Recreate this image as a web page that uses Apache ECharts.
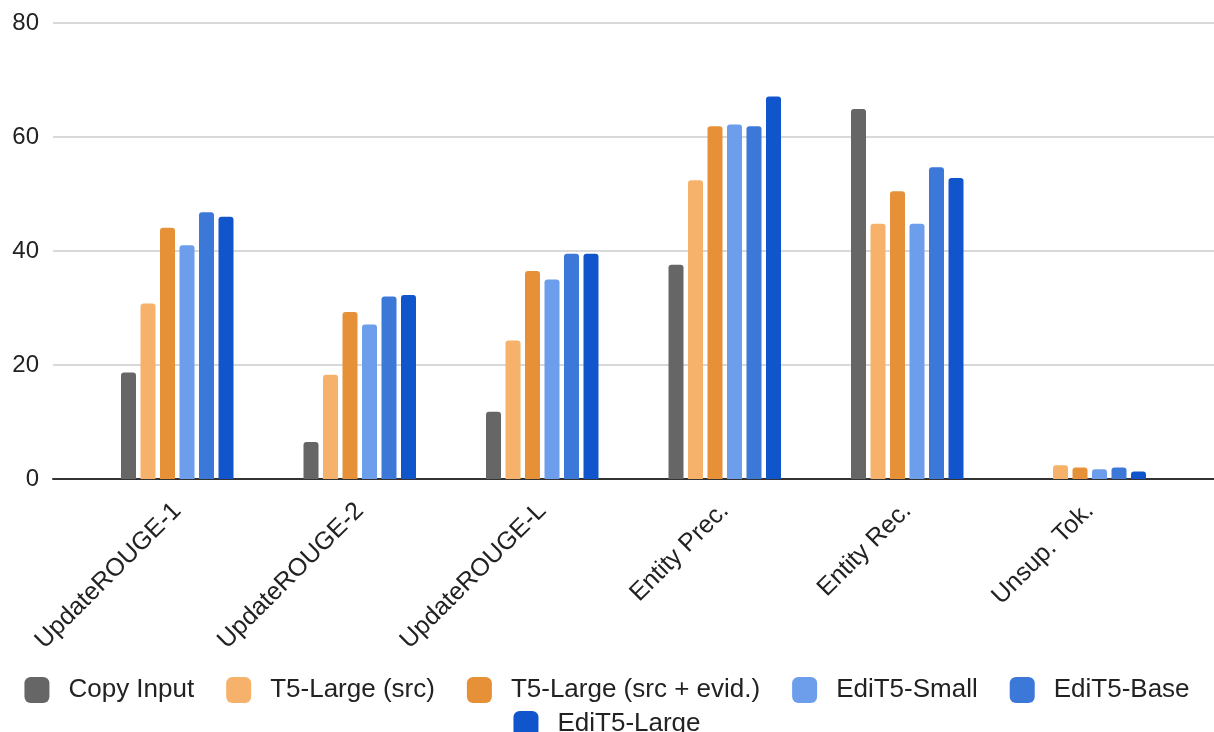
<!DOCTYPE html>
<html>
<head>
<meta charset="utf-8">
<script src="https://cdn.jsdelivr.net/npm/echarts@6/dist/echarts.min.js"></script>
<style>html,body{margin:0;padding:0;background:#fff;}#c{width:1214px;height:732px;}</style>
</head>
<body>
<div id="c"></div>
<script>
const categories = ['UpdateROUGE-1', 'UpdateROUGE-2', 'UpdateROUGE-L', 'Entity Prec.', 'Entity Rec.', 'Unsup. Tok.'];
const seriesNames = ['Copy Input', 'T5-Large (src)', 'T5-Large (src + evid.)', 'EdiT5-Small', 'EdiT5-Base', 'EdiT5-Large'];
const copyInput   = [18.7, 6.5, 11.8, 37.6, 64.9, 0];
const t5Src       = [30.8, 18.3, 24.3, 52.4, 44.8, 2.4];
const t5SrcEvid   = [44.1, 29.3, 36.5, 61.9, 50.5, 2.0];
const edit5Small  = [41.0, 27.1, 35.0, 62.2, 44.8, 1.7];
const edit5Base   = [46.8, 32.0, 39.5, 61.9, 54.7, 2.0];
const edit5Large  = [46.0, 32.3, 39.5, 67.1, 52.8, 1.3];
const yTicks = [0, 20, 40, 60, 80];

const seriesData = [copyInput, t5Src, t5SrcEvid, edit5Small, edit5Base, edit5Large];
const colors = ['#666666', '#f6b26b', '#e69138', '#6d9eeb', '#3c78d8', '#1155cc'];

const chart = echarts.init(document.getElementById('c'), null, {renderer: 'canvas'});
const FONT = "'Liberation Sans', Arial, sans-serif";
const gTop = 23, gBottom = 253;

const legendBase = {
  show: true,
  left: 'center',
  itemWidth: 25,
  itemHeight: 26,
  itemGap: 32,
  icon: 'roundRect',
  textStyle: {fontSize: 26, color: '#222222', fontFamily: FONT, padding: [0, 0, 0, 14]}
};

chart.setOption({
  animation: false,
  backgroundColor: '#ffffff',
  color: colors,
  textStyle: {fontFamily: FONT},
  grid: [
    {left: 53, right: 0, top: gTop, bottom: gBottom, containLabel: false},
    {left: 86, width: 1095, top: gTop, bottom: gBottom, containLabel: false}
  ],
  xAxis: [
    {gridIndex: 0, type: 'value', min: 0, max: 1, show: true,
     axisLine: {show: true, onZero: false, lineStyle: {color: '#333333', width: 2}},
     axisTick: {show: false}, axisLabel: {show: false}, splitLine: {show: false}},
    {gridIndex: 1, type: 'category', data: categories,
     axisLine: {show: false}, axisTick: {show: false},
     axisLabel: {rotate: 45, fontSize: 25, color: '#222222', fontFamily: FONT, margin: 28, interval: 0}}
  ],
  yAxis: [
    {gridIndex: 0, type: 'value', min: yTicks[0], max: yTicks[yTicks.length - 1], interval: 20,
     axisLine: {show: false}, axisTick: {show: false},
     axisLabel: {fontSize: 24, color: '#222222', fontFamily: FONT, margin: 14},
     splitLine: {show: true, lineStyle: {color: '#cccccc', width: 1.5}}},
    {gridIndex: 1, type: 'value', min: 0, max: 80, show: false, splitLine: {show: false}}
  ],
  legend: [
    Object.assign({}, legendBase, {top: 672, data: seriesNames.slice(0, 5)}),
    Object.assign({}, legendBase, {top: 706, data: seriesNames.slice(5)})
  ],
  series: seriesNames.map((name, i) => ({
    name: name,
    type: 'bar',
    xAxisIndex: 1,
    yAxisIndex: 1,
    data: seriesData[i],
    barWidth: 15,
    barGap: '30%',
    itemStyle: {color: colors[i], borderRadius: [3, 3, 0, 0]},
    z: 3
  }))
});
</script>
</body>
</html>
